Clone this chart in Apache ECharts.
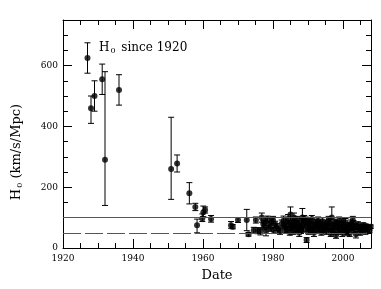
<!DOCTYPE html>
<html><head><meta charset="utf-8">
<script src="https://cdn.jsdelivr.net/npm/echarts@6/dist/echarts.min.js"></script>
<style>html,body{margin:0;padding:0;background:#fff}#c{width:381px;height:289px}</style>
</head><body><div id="c"></div><script>
const years = [
 1927.0,1928.0,1929.0,1931.2,1932.0,1936.0,1950.9,1952.6,1956.1,1957.8,
 1958.3,1959.8,1960.1,1960.6,1962.3,1968.0,1968.5,1970.0,1972.5,1973.0,
 1974.5,1975.1,1975.6,1976.4,1976.8,1977.2,1977.5,1977.8,1978.0,1978.4,
 1978.8,1979.2,1979.6,1980.0,1980.2,1980.6,1981.0,1981.5,1982.0,1982.5,
 1983.0,1983.3,1983.7,1984.0,1984.3,1984.6,1985.0,1985.2,1985.5,1985.8,
 1986.0,1986.3,1986.6,1986.9,1987.2,1987.5,1987.8,1988.1,1988.4,1988.7,
 1989.0,1989.3,1989.6,1989.9,1990.2,1990.5,1990.8,1991.1,1991.4,1991.7,
 1992.0,1992.3,1992.6,1992.9,1993.2,1993.5,1993.8,1994.1,1994.4,1994.7,
 1995.0,1995.3,1995.6,1995.9,1996.2,1996.5,1996.8,1997.1,1997.4,1997.7,
 1998.0,1998.3,1998.6,1998.9,1999.2,1999.5,1999.8,2000.1,2000.4,2000.7,
 2001.0,2001.3,2001.6,2001.9,2002.2,2002.5,2002.8,2003.1,2003.4,2003.7,
 2004.0,2004.3,2004.6,2004.9,2005.2,2005.5,2005.8,2006.1,2006.4,2006.7,
 2007.0,2007.3,2007.6,2007.9,
 1983.5,1984.8,1985.4,1986.1,1987.0,1988.0,1988.9,1990.0,1990.9,1991.9,
 1993.0,1994.0,1994.9,1996.0,1997.0,1998.1,1999.0,2000.0,2000.9,2002.0,2003.0
];
const h0 = [
 625,460,500,555,290,520,260,278,180,135,
 75,97,118,125,95,75,70,92,92,45,
 58,92,57,55,100,80,70,88,55,95,
 75,65,86,92,58,78,70,62,55,80,
 90,72,85,62,95,78,110,68,88,55,
 100,75,60,92,80,50,70,85,100,62,
 78,90,26,65,55,82,72,95,60,50,
 85,70,58,90,65,78,52,88,72,62,
 80,55,70,92,65,48,100,75,60,85,
 42,70,55,90,65,78,50,72,60,85,
 68,55,75,48,80,65,92,58,72,45,
 68,78,62,52,70,60,75,65,55,72,
 62,68,58,70,
 60,52,75,82,65,58,95,88,62,75,
 82,60,68,85,55,80,58,88,52,70,80
];
const errMinus = [
 50,50,50,50,150,50,100,28,35,12,
 25,10,15,10,10,10,7,8,35,6,
 10,10,10,12,15,12,10,15,15,10,
 12,10,10,12,10,10,12,10,10,12,
 15,10,15,10,15,12,20,10,12,10,
 12,10,10,12,10,12,10,12,20,10,
 10,12,8,10,10,12,10,12,10,12,
 10,10,10,12,10,10,10,12,10,10,
 12,10,10,12,10,10,25,10,10,10,
 10,10,10,12,10,10,12,10,10,10,
 8,10,8,10,10,8,12,8,8,12,
 8,8,8,10,8,8,8,8,10,6,
 6,6,8,6,
 10,10,10,10,10,10,12,10,10,10,
 10,10,10,10,10,10,10,10,10,10,10
];
const errPlus = [
 50,40,50,50,290,50,170,28,35,12,
 20,15,20,10,12,12,7,8,35,6,
 10,10,10,10,15,10,10,12,12,10,
 12,10,10,12,10,10,10,10,10,12,
 15,10,15,10,15,12,25,10,12,10,
 15,10,10,12,12,10,10,12,30,10,
 10,12,8,10,10,12,10,12,10,10,
 10,10,10,12,10,10,10,12,10,10,
 12,10,10,12,10,10,35,10,10,10,
 10,10,10,12,10,10,10,10,10,12,
 8,10,8,10,12,8,12,8,8,10,
 8,8,8,10,8,8,8,8,10,6,
 6,6,8,6,
 10,10,10,10,10,10,12,10,10,10,
 10,10,10,10,10,10,10,10,10,10,10
];
const refLines = [100, 50];
const xRange = [1920, 2008];
const yRange = [0, 750];

const F = 'DejaVu Serif';
const points = years.map((y, i) => [y, h0[i]]);
const bars = years.map((y, i) => [y, h0[i] - errMinus[i], h0[i] + errPlus[i]]);

function xa(pos, interval, len, labels, line) {
  return {
    type: 'value', position: pos, min: xRange[0], max: xRange[1], interval: interval,
    splitLine: {show: false},
    axisLine: {show: line, onZero: false, lineStyle: {color: '#000', width: 1}},
    axisTick: {show: true, inside: true, length: len, lineStyle: {color: '#000', width: 1}},
    axisLabel: labels ? {show: true, fontFamily: F, fontSize: 9, color: '#000', margin: 6, showMaxLabel: false,
      formatter: function (v) { return String(v); }} : {show: false}
  };
}
function ya(pos, interval, len, labels, line) {
  return {
    type: 'value', position: pos, min: yRange[0], max: yRange[1], interval: interval,
    splitLine: {show: false},
    axisLine: {show: line, onZero: false, lineStyle: {color: '#000', width: 1}},
    axisTick: {show: true, inside: true, length: len, lineStyle: {color: '#000', width: 1}},
    axisLabel: labels ? {show: true, fontFamily: F, fontSize: 9, color: '#000', margin: 5, showMaxLabel: false,
      formatter: function (v) { return String(v); }} : {show: false}
  };
}
const xBottom = xa('bottom', 20, 9, true, true);
xBottom.name = 'Date';
xBottom.nameLocation = 'middle';
xBottom.nameGap = 21;
xBottom.nameTextStyle = {fontFamily: F, fontSize: 13, color: '#000'};

const chart = echarts.init(document.getElementById('c'), null, {renderer: 'canvas'});
chart.setOption({
  animation: false,
  backgroundColor: '#fff',
  grid: {left: 63, right: 10, top: 20, bottom: 41, containLabel: false},
  title: {
    text: 'H{s|0} since 1920', left: 94, top: 36,
    textStyle: {fontFamily: F, fontSize: 12, fontWeight: 'normal', color: '#000',
      rich: {s: {fontFamily: F, fontSize: 8, color: '#000', verticalAlign: 'bottom', padding: [6, 2, 0, 1]}}}
  },
  graphic: [{
    type: 'text', x: 17, y: 152, rotation: Math.PI / 2,
    style: {text: 'H{s|0} (km/s/Mpc)', fontFamily: F, fontSize: 13, fill: '#000',
      align: 'center', verticalAlign: 'middle',
      rich: {s: {fontFamily: F, fontSize: 8, fill: '#000', verticalAlign: 'bottom', padding: [6, 0, 0, 1]}}}
  }],
  xAxis: [xBottom, xa('bottom', 5, 5, false, false), xa('top', 20, 9, false, true), xa('top', 5, 5, false, false)],
  yAxis: [ya('left', 200, 9, true, true), ya('left', 50, 5, false, false), ya('right', 200, 9, false, true), ya('right', 50, 5, false, false)],
  series: [
    {
      type: 'custom', xAxisIndex: 0, yAxisIndex: 0, data: bars, encode: {x: 0, y: [1, 2]},
      silent: true, z: 3,
      renderItem: function (params, api) {
        const x = api.value(0), lo = api.value(1), hi = api.value(2);
        const a = api.coord([x, lo]), b = api.coord([x, hi]);
        const w = 3, st = {stroke: '#000', lineWidth: 1, fill: null};
        return {type: 'group', children: [
          {type: 'line', shape: {x1: a[0], y1: a[1], x2: b[0], y2: b[1]}, style: st},
          {type: 'line', shape: {x1: a[0] - w, y1: a[1], x2: a[0] + w, y2: a[1]}, style: st},
          {type: 'line', shape: {x1: b[0] - w, y1: b[1], x2: b[0] + w, y2: b[1]}, style: st}
        ]};
      }
    },
    {
      type: 'scatter', xAxisIndex: 0, yAxisIndex: 0, data: points, symbol: 'circle', symbolSize: 6,
      itemStyle: {color: '#000'}, z: 4,
      markLine: {
        silent: true, symbol: ['none', 'none'], label: {show: false},
        data: [
          {yAxis: refLines[0], lineStyle: {color: '#555', width: 1, type: 'solid'}},
          {yAxis: refLines[1], lineStyle: {color: '#555', width: 1, type: [18, 4]}}
        ]
      }
    }
  ]
});
</script></body></html>
